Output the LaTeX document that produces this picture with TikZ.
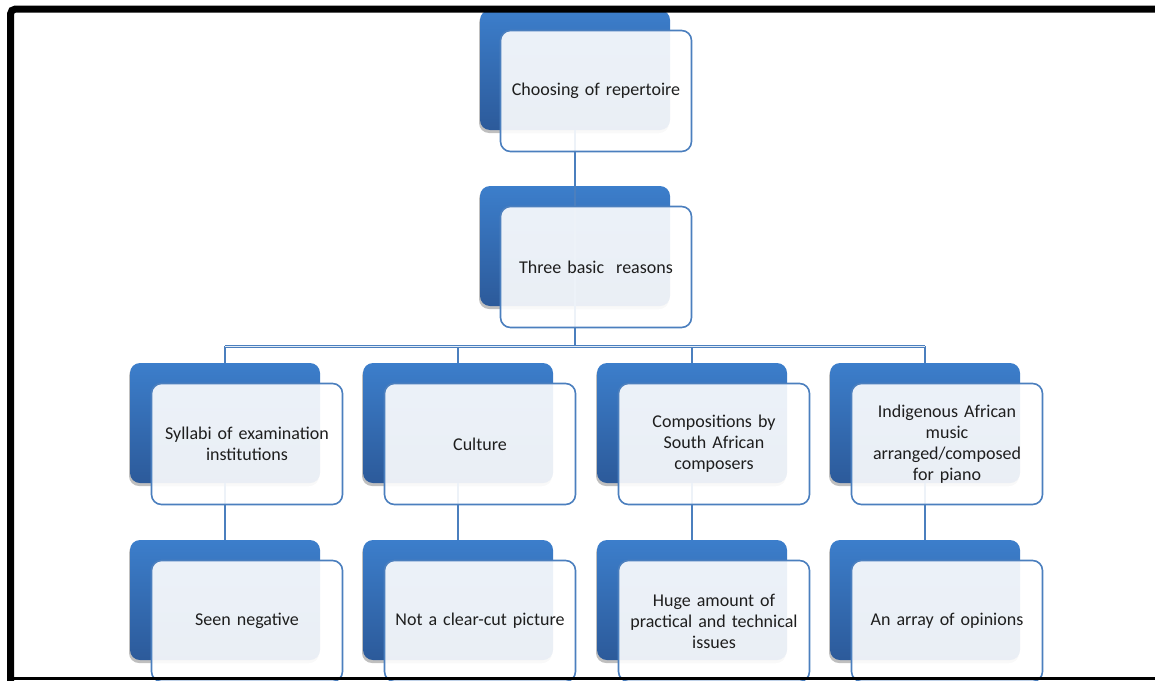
\documentclass[tikz,border=0pt]{standalone}
\usepackage{fontspec}
\setmainfont{Carlito}
\usetikzlibrary{shadows}

\definecolor{backtop}{HTML}{3C7ECB}
\definecolor{backbot}{HTML}{2C5A9A}
\definecolor{boxline}{HTML}{4B7FBE}
\definecolor{inktext}{HTML}{1E1E1E}

\tikzset{
    backbox/.style={rounded corners=10pt, minimum width=190pt, minimum height=120pt,
        top color=backtop, bottom color=backbot, draw=none,
        drop shadow={shadow xshift=-1pt, shadow yshift=-3pt, opacity=0.25, fill=black}},
    frontbox/.style={rounded corners=10pt, minimum width=191pt, minimum height=121pt,
        draw=boxline, line width=1.6pt, fill=white, fill opacity=0.9, text opacity=1,
        text=inktext, text width=180pt, align=center,
        font=\fontsize{18}{21}\selectfont},
    link/.style={draw=boxline, line width=1.8pt},
}

\begin{document}
\begin{tikzpicture}[x=1pt, y=-1pt]
    \useasboundingbox (0, 0) rectangle (1155, 680);

    % back boxes
    \node[backbox] (b0) at (575, 70) {};
    \node[backbox] (b1) at (575, 246) {};
    \node[backbox] (c1) at (225, 423) {};
    \node[backbox] (c2) at (458, 423) {};
    \node[backbox] (c3) at (692, 423) {};
    \node[backbox] (c4) at (925, 423) {};
    \node[backbox] (d1) at (225, 600) {};
    \node[backbox] (d2) at (458, 600) {};
    \node[backbox] (d3) at (692, 600) {};
    \node[backbox] (d4) at (925, 600) {};

    % connectors
    \coordinate (bus) at (575, 346);
    \draw[link] (b0.south) -- (b1.south);
    \draw[link] (b1.south) -- (bus);
    \foreach \i in {1,...,4}{
        \draw[link] (bus -| c\i.north) -- (c\i.north);
        \draw[link] (c\i.south) -- (d\i.north);
    }
    \draw[link, line width=3pt] (bus -| c1.north) -- (bus -| c4.north); % bus
    \draw[white!85!boxline, line width=0.9pt] (bus -| c1.north) -- (bus -| c4.north);

    % front boxes
    \node[frontbox] (f0) at ([shift={(21,21)}]b0) {Choosing of repertoire};
    \node[frontbox] (f1) at ([shift={(21,21)}]b1) {Three basic\ \ reasons};
    \node[frontbox] (g1) at ([shift={(22,21)}]c1) {Syllabi of examination\\institutions};
    \node[frontbox] (g2) at ([shift={(22,21)}]c2) {Culture};
    \node[frontbox] (g3) at ([shift={(22,21)}]c3) {Compositions by\\South African\\composers};
    \node[frontbox] (g4) at ([shift={(22,21)}]c4) {Indigenous African\\music\\arranged/composed\\for piano};
    \node[frontbox] (h1) at ([shift={(22,21)}]d1) {Seen negative};
    \node[frontbox] (h2) at ([shift={(22,21)}]d2) {Not a clear-cut picture};
    \node[frontbox] (h3) at ([shift={(22,21)}]d3) {Huge amount of\\practical and technical\\issues};
    \node[frontbox] (h4) at ([shift={(22,21)}]d4) {An array of opinions};

    % frame
    \draw[line width=7pt, rounded corners=5pt] (10.5, 690) -- (10.5, 9) -- (1165, 9);
    \draw[line width=3pt] (7, 678) -- (1165, 678);
\end{tikzpicture}
\end{document}
